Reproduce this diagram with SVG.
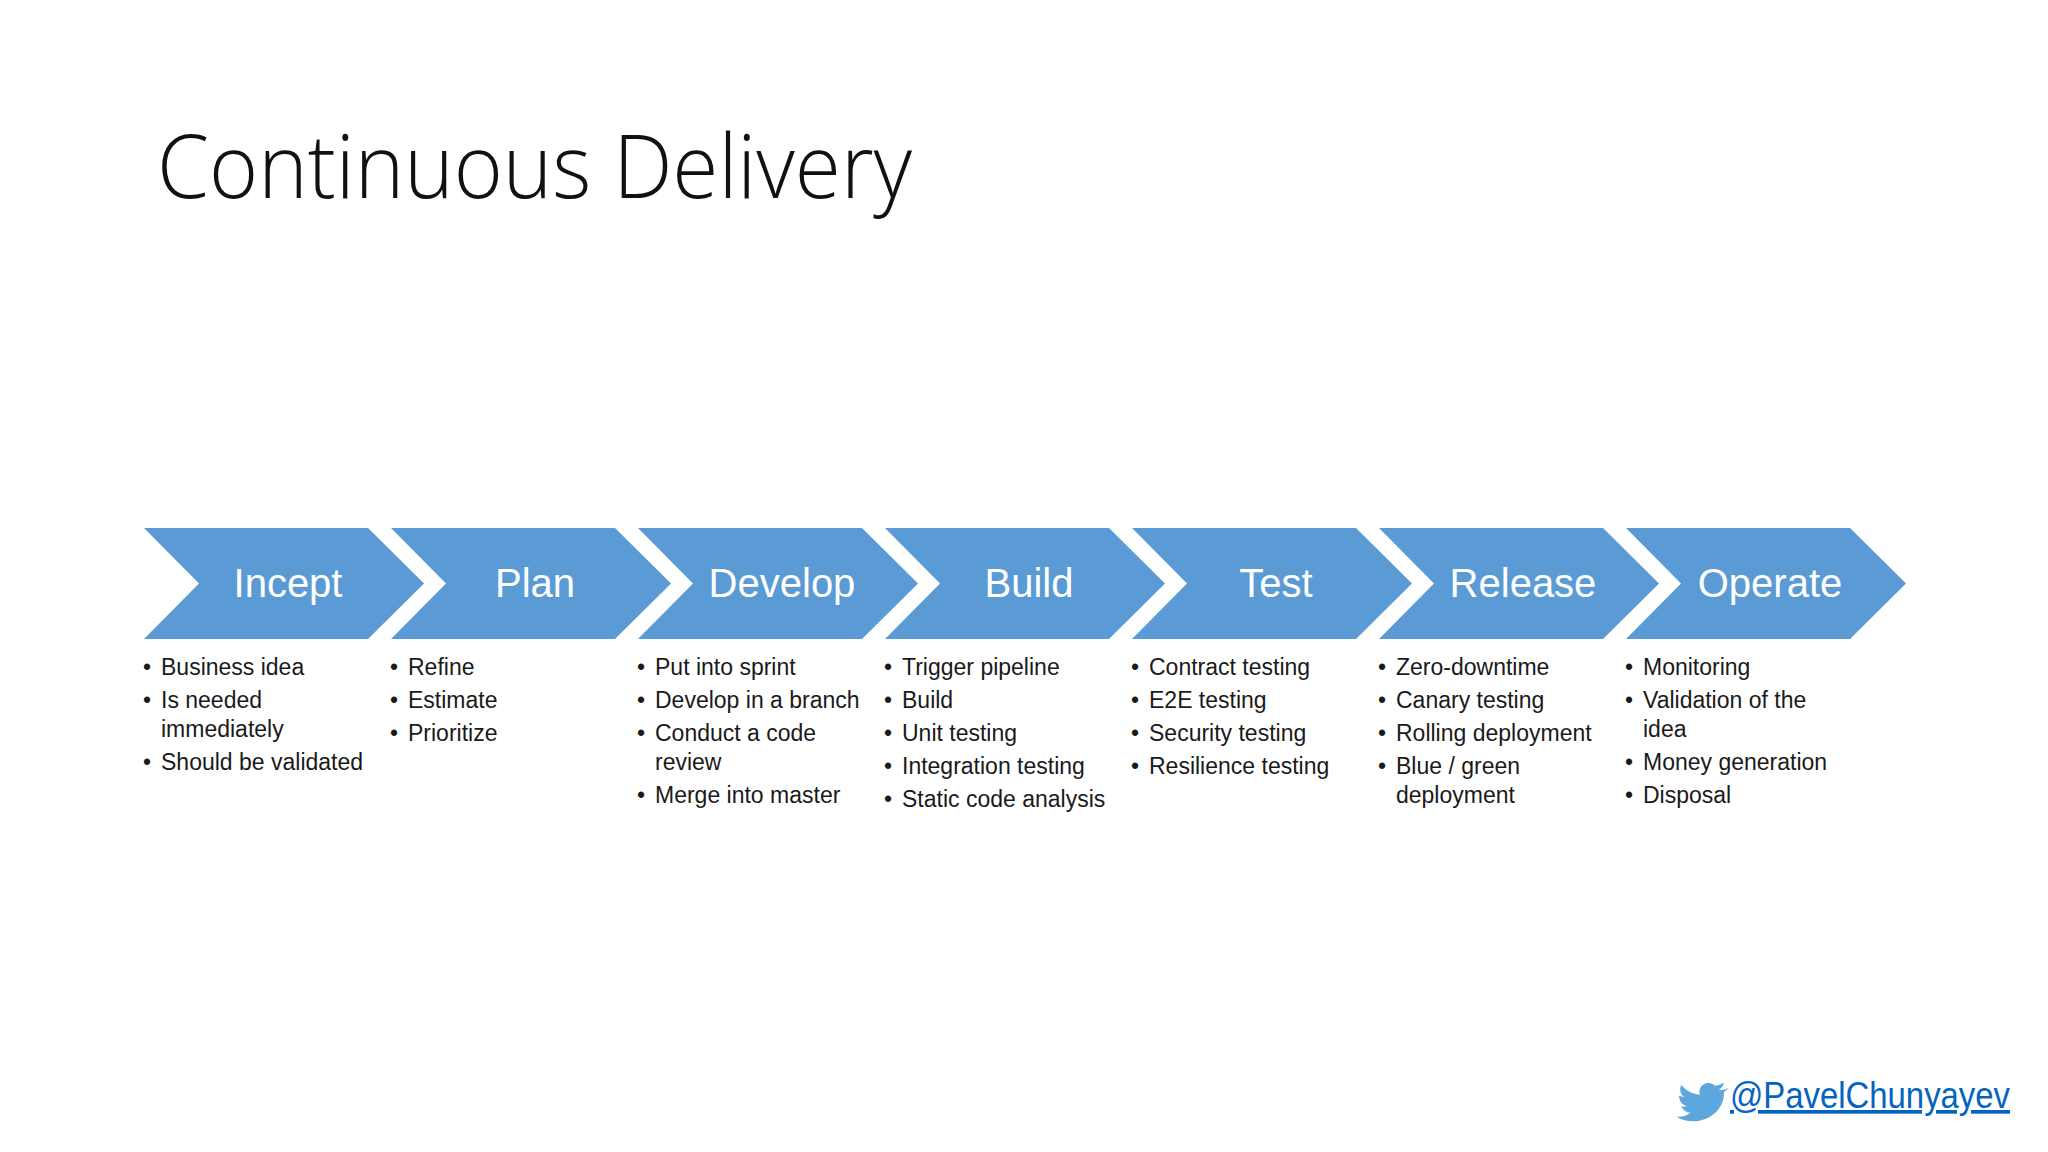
<svg xmlns="http://www.w3.org/2000/svg" width="2048" height="1152" viewBox="0 0 2048 1152">
<style>
.ch{fill:#5B9BD5}
.lb{font-family:"Liberation Sans",Arial,sans-serif;font-size:40px;fill:#fff;text-anchor:middle}
.bt{font-family:"Liberation Sans",Arial,sans-serif;font-size:23px;fill:#1a1a1a}
</style>
<defs><polygon id="chev" points="0,528 224,528 280,583.5 224,639 0,639 55,583.5"/></defs>
<rect width="2048" height="1152" fill="#fff"/>
<text x="157" y="198" font-family="'Open Sans',sans-serif" font-weight="300" font-size="88" fill="#111" textLength="755" lengthAdjust="spacingAndGlyphs">Continuous Delivery</text>
<g id="incept"><use href="#chev" class="ch" x="144"/><text class="lb" x="288" y="597">Incept</text>
<text class="bt"><tspan x="143" y="675">•</tspan><tspan x="161" y="675">Business idea</tspan><tspan x="143" y="708">•</tspan><tspan x="161" y="708">Is needed</tspan><tspan x="161" y="737">immediately</tspan><tspan x="143" y="770">•</tspan><tspan x="161" y="770">Should be validated</tspan></text></g>
<g id="plan"><use href="#chev" class="ch" x="391"/><text class="lb" x="535" y="597">Plan</text>
<text class="bt"><tspan x="390" y="675">•</tspan><tspan x="408" y="675">Refine</tspan><tspan x="390" y="708">•</tspan><tspan x="408" y="708">Estimate</tspan><tspan x="390" y="741">•</tspan><tspan x="408" y="741">Prioritize</tspan></text></g>
<g id="develop"><use href="#chev" class="ch" x="638"/><text class="lb" x="782" y="597">Develop</text>
<text class="bt"><tspan x="637" y="675">•</tspan><tspan x="655" y="675">Put into sprint</tspan><tspan x="637" y="708">•</tspan><tspan x="655" y="708">Develop in a branch</tspan><tspan x="637" y="741">•</tspan><tspan x="655" y="741">Conduct a code</tspan><tspan x="655" y="770">review</tspan><tspan x="637" y="803">•</tspan><tspan x="655" y="803">Merge into master</tspan></text></g>
<g id="build"><use href="#chev" class="ch" x="885"/><text class="lb" x="1029" y="597">Build</text>
<text class="bt"><tspan x="884" y="675">•</tspan><tspan x="902" y="675">Trigger pipeline</tspan><tspan x="884" y="708">•</tspan><tspan x="902" y="708">Build</tspan><tspan x="884" y="741">•</tspan><tspan x="902" y="741">Unit testing</tspan><tspan x="884" y="774">•</tspan><tspan x="902" y="774">Integration testing</tspan><tspan x="884" y="807">•</tspan><tspan x="902" y="807">Static code analysis</tspan></text></g>
<g id="test"><use href="#chev" class="ch" x="1132"/><text class="lb" x="1276" y="597">Test</text>
<text class="bt"><tspan x="1131" y="675">•</tspan><tspan x="1149" y="675">Contract testing</tspan><tspan x="1131" y="708">•</tspan><tspan x="1149" y="708">E2E testing</tspan><tspan x="1131" y="741">•</tspan><tspan x="1149" y="741">Security testing</tspan><tspan x="1131" y="774">•</tspan><tspan x="1149" y="774">Resilience testing</tspan></text></g>
<g id="release"><use href="#chev" class="ch" x="1379"/><text class="lb" x="1523" y="597">Release</text>
<text class="bt"><tspan x="1378" y="675">•</tspan><tspan x="1396" y="675">Zero-downtime</tspan><tspan x="1378" y="708">•</tspan><tspan x="1396" y="708">Canary testing</tspan><tspan x="1378" y="741">•</tspan><tspan x="1396" y="741">Rolling deployment</tspan><tspan x="1378" y="774">•</tspan><tspan x="1396" y="774">Blue / green</tspan><tspan x="1396" y="803">deployment</tspan></text></g>
<g id="operate"><use href="#chev" class="ch" x="1626"/><text class="lb" x="1770" y="597">Operate</text>
<text class="bt"><tspan x="1625" y="675">•</tspan><tspan x="1643" y="675">Monitoring</tspan><tspan x="1625" y="708">•</tspan><tspan x="1643" y="708">Validation of the</tspan><tspan x="1643" y="737">idea</tspan><tspan x="1625" y="770">•</tspan><tspan x="1643" y="770">Money generation</tspan><tspan x="1625" y="803">•</tspan><tspan x="1643" y="803">Disposal</tspan></text></g>
<g id="connectors"/>
<g id="footer">
<path transform="translate(1700,1100) scale(0.75) translate(-1700,-1100) translate(10,0)" d="M1728,1084 c-5,2 -9,3 -13,3 c4,-3 6,-6 7,-10 c-4,2 -8,4 -12,4 c-4,-4 -10,-5 -15,-2 c-5,3 -7,9 -5,14 c-10,-1 -18,-5 -25,-13 c-3,6 -1,13 4,16 c-3,0 -5,-1 -7,-2 c0,7 4,12 10,14 c-2,1 -5,1 -7,0 c2,5 7,9 12,9 c-5,4 -12,6 -19,5 c29,17 65,-2 64,-33 c3,-2 5,-4 6,-5 z" fill="#5DA7DE"/>
<text x="1730" y="1108" font-family="'Liberation Sans',Arial,sans-serif" font-size="37" fill="#0563C1" text-decoration="underline" textLength="280" lengthAdjust="spacingAndGlyphs">@PavelChunyayev</text>
</g>
</svg>
